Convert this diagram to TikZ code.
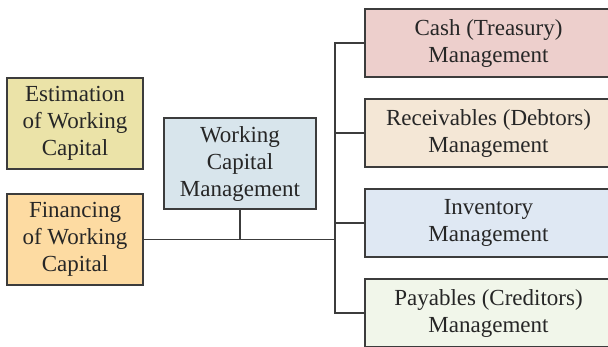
\documentclass[tikz,border=0pt]{standalone}
\usepackage{fontspec}
\setmainfont{Liberation Serif}
\definecolor{estc}{HTML}{EBE3A8}
\definecolor{finc}{HTML}{FDDBA2}
\definecolor{wcmc}{HTML}{D8E5EC}
\definecolor{cashc}{HTML}{EDCFCC}
\definecolor{recc}{HTML}{F4E7D6}
\definecolor{invc}{HTML}{DFE8F3}
\definecolor{payc}{HTML}{F1F6EA}
\definecolor{edge}{HTML}{3C3C3C}
\begin{document}
\begin{tikzpicture}[x=1pt,y=-1pt,
  box/.style={draw=edge, line width=1.4pt, rectangle, align=center, inner sep=0pt,
    font=\fontsize{23}{27}\selectfont, text=black!85},
  lbox/.style={box, minimum width=136pt, minimum height=91pt},
  rbox/.style={box, minimum width=247pt, minimum height=68pt},
  conn/.style={draw=edge, line width=1.4pt}]
\useasboundingbox (0,0) rectangle (608,346);
\clip (0,0) rectangle (608,346);
\node[lbox, fill=estc] (est) at (75,123.5) {Estimation\\of Working\\Capital};
\node[lbox, fill=finc] (fin) at (75,239.5) {Financing\\of Working\\Capital};
\node[box, fill=wcmc, minimum width=152pt, minimum height=91pt] (wcm) at (240,163.5) {Working\\Capital\\Management};
\node[rbox, fill=cashc] (cash) at (488.5,43) {Cash (Treasury)\\Management};
\node[rbox, fill=recc] (rec) at (488.5,133) {Receivables (Debtors)\\Management};
\node[rbox, fill=invc] (inv) at (488.5,223) {Inventory\\Management};
\node[rbox, fill=payc] (pay) at (488.5,313) {Payables (Creditors)\\Management};
\coordinate (busx) at (335,0);
\draw[conn] (cash.west) -- (cash.west -| busx) -- (pay.west -| busx) -- (pay.west);
\draw[conn] (rec.west) -- (rec.west -| busx);
\draw[conn] (inv.west) -- (inv.west -| busx);
\draw[conn] (fin.east) -- (fin.east -| busx);
\draw[conn] (wcm.south) -- (wcm.south |- fin.east);
\end{tikzpicture}
\end{document}
